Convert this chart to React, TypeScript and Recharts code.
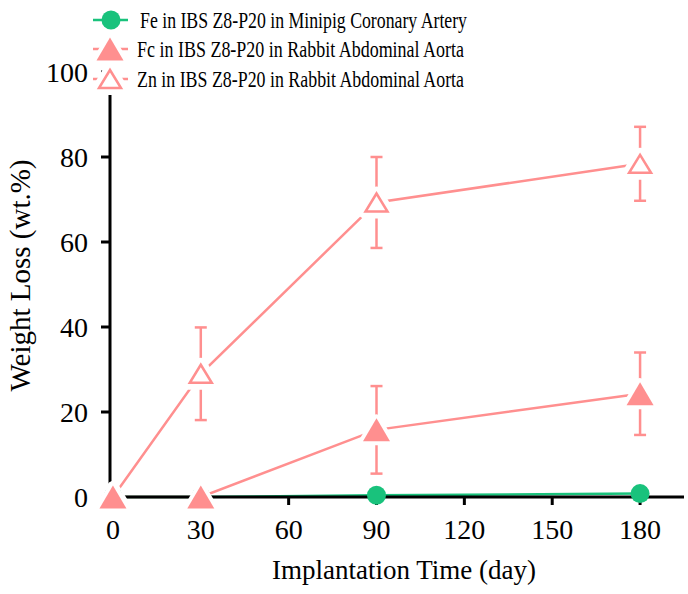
import { ErrorBar, Legend, Line, LineChart, XAxis, YAxis } from "recharts";

const days = [0, 30, 90, 180];
const feMinipig = [0, 0, 0.4, 0.8];
const feRabbit = [0, 0, 15.8, 24.3];
const feRabbitErr = [0, 0, 10.3, 9.7];
const znRabbit = [0, 29, 69.3, 78.4];
const znRabbitErr = [0, 10.9, 10.7, 8.7];

const xMajorTicks = [0, 30, 60, 90, 120, 150, 180];
const xMinorTicks = [15, 45, 75, 105, 135, 165, 195];
const yMajorTicks = [0, 20, 40, 60, 80, 100];
const yMinorTicks = [10, 30, 50, 70, 90];

const seriesNames = [
  "Fe in IBS Z8-P20 in Minipig Coronary Artery",
  "Fc in IBS Z8-P20 in Rabbit Abdominal Aorta",
  "Zn in IBS Z8-P20 in Rabbit Abdominal Aorta",
];

const GREEN = "#19c27c";
const PINK = "#ff8f8f";
const FONT = '"Liberation Serif", "Times New Roman", serif';
const X_DOMAIN: [number, number] = [-1, 195];
const Y_DOMAIN: [number, number] = [0, 100];

const data = days.map((d, i) => ({
  day: d,
  feMinipig: feMinipig[i],
  feRabbit: feRabbit[i],
  feRabbitErr: feRabbitErr[i],
  znRabbit: znRabbit[i],
  znRabbitErr: znRabbitErr[i],
}));

function Circle({ cx, cy }: any) {
  return <circle cx={cx} cy={cy} r={9.5} fill={GREEN} />;
}

function triPath(cx: number, cy: number, w: number, h: number) {
  return `M${cx},${cy - h / 2} L${cx + w / 2},${cy + h / 2} L${cx - w / 2},${cy + h / 2} Z`;
}

function FilledTri({ cx, cy }: any) {
  return (
    <g>
      <path d={triPath(cx, cy, 27, 23)} fill="#fff" stroke="#fff" strokeWidth={8} strokeLinejoin="round" />
      <path d={triPath(cx, cy, 27, 23)} fill={PINK} />
    </g>
  );
}

function OpenTri({ cx, cy }: any) {
  return (
    <g>
      <path d={triPath(cx, cy, 24, 20)} fill="#fff" stroke="#fff" strokeWidth={12} strokeLinejoin="round" />
      <path d={triPath(cx, cy, 22, 18)} fill="#fff" stroke={PINK} strokeWidth={2.5} />
    </g>
  );
}

const emptyTick = () => <g />;

function XTickText({ x, y, payload }: any) {
  return (
    <text x={x} y={y + 34} textAnchor="middle" fontSize={28} fill="#000">
      {payload.value}
    </text>
  );
}

function YTickText({ x, y, payload }: any) {
  return (
    <text x={x - 13} y={y} dy="0.34em" textAnchor="end" fontSize={28} fill="#000">
      {payload.value}
    </text>
  );
}

function YLabel({ viewBox }: any) {
  const cy = viewBox.y + viewBox.height / 2 - 9;
  return (
    <text x={30} y={cy} transform={`rotate(-90 30 ${cy})`} textAnchor="middle" fontSize={29} fill="#000">
      Weight Loss (wt.%)
    </text>
  );
}

function LegendBox() {
  const rows = [
    { y: 20, kind: "circle", color: GREEN, tx: 140 },
    { y: 49, kind: "filled", color: PINK, tx: 137 },
    { y: 79, kind: "open", color: PINK, tx: 137 },
  ];
  return (
    <svg width={688} height={100} style={{ fontFamily: FONT }}>
      {rows.map((r, i) => (
        <g key={i}>
          <line x1={93} x2={128} y1={r.y} y2={r.y} stroke={r.color} strokeWidth={2.5} />
          {r.kind === "circle" && <Circle cx={111} cy={r.y} />}
          {r.kind === "filled" && <FilledTri cx={110} cy={r.y} />}
          {r.kind === "open" && <OpenTri cx={110} cy={r.y} />}
          <text
            x={r.tx}
            y={r.y}
            dy="0.34em"
            fontSize={24}
            fill="#000"
            textLength={327}
            lengthAdjust="spacingAndGlyphs"
          >
            {seriesNames[i]}
          </text>
        </g>
      ))}
    </svg>
  );
}

const tickStroke = { stroke: "#000", strokeWidth: 3 };

export default function App() {
  return (
    <div style={{ position: "absolute", left: 0, top: 0, width: 688, height: 594, background: "#fff", fontFamily: FONT }}>
      <LineChart width={688} height={594} data={data} margin={{ top: 72, right: 4, bottom: 0, left: 0 }}>
        <Legend
          layout="vertical"
          align="center"
          verticalAlign="middle"
          wrapperStyle={{ position: "absolute", left: 0, top: 0, width: 688, height: 100 }}
          content={() => <LegendBox />}
        />
        {/* id 0: zero-size axes carrying only the minor ticks, stacked first so they sit on the main axes */}
        <XAxis
          xAxisId={0}
          dataKey="day"
          type="number"
          domain={X_DOMAIN}
          ticks={xMinorTicks}
          interval={0}
          height={0}
          axisLine={false}
          tickLine={tickStroke}
          tickSize={5}
          tick={emptyTick}
        />
        <YAxis
          yAxisId={0}
          type="number"
          domain={Y_DOMAIN}
          ticks={yMinorTicks}
          interval={0}
          width={0}
          axisLine={false}
          tickLine={tickStroke}
          tickSize={5}
          tick={emptyTick}
        />
        <XAxis
          xAxisId={1}
          dataKey="day"
          type="number"
          domain={X_DOMAIN}
          ticks={xMajorTicks}
          interval={0}
          height={97}
          axisLine={{ stroke: "#000", strokeWidth: 3 }}
          tickLine={tickStroke}
          tickSize={8}
          tickMargin={0}
          tick={(p: any) => <XTickText {...p} />}
          label={{ value: "Implantation Time (day)", position: "insideBottom", offset: 15, dx: 7, fontSize: 27, fill: "#000" }}
        />
        <YAxis
          yAxisId={1}
          type="number"
          domain={Y_DOMAIN}
          ticks={yMajorTicks}
          interval={0}
          width={110}
          axisLine={{ stroke: "#000", strokeWidth: 3 }}
          tickLine={tickStroke}
          tickSize={9}
          tickMargin={0}
          tick={(p: any) => <YTickText {...p} />}
          label={<YLabel />}
        />
        <Line
          xAxisId={1}
          yAxisId={1}
          dataKey="znRabbit"
          type="linear"
          stroke={PINK}
          strokeWidth={2.5}
          dot={false}
          activeDot={false}
          isAnimationActive={false}
        >
          <ErrorBar dataKey="znRabbitErr" width={6} stroke={PINK} strokeWidth={2.5} direction="y" />
        </Line>
        <Line
          xAxisId={1}
          yAxisId={1}
          dataKey="feRabbit"
          type="linear"
          stroke={PINK}
          strokeWidth={2.5}
          dot={false}
          activeDot={false}
          isAnimationActive={false}
        >
          <ErrorBar dataKey="feRabbitErr" width={6} stroke={PINK} strokeWidth={2.5} direction="y" />
        </Line>
        <Line
          xAxisId={1}
          yAxisId={1}
          dataKey="znRabbit"
          name={seriesNames[2]}
          stroke="none"
          dot={<OpenTri />}
          activeDot={false}
          isAnimationActive={false}
        />
        <Line
          xAxisId={1}
          yAxisId={1}
          dataKey="feMinipig"
          name={seriesNames[0]}
          type="linear"
          stroke={GREEN}
          strokeWidth={2.5}
          dot={<Circle />}
          activeDot={false}
          isAnimationActive={false}
        />
        <Line
          xAxisId={1}
          yAxisId={1}
          dataKey="feRabbit"
          name={seriesNames[1]}
          stroke="none"
          dot={<FilledTri />}
          activeDot={false}
          isAnimationActive={false}
        />
      </LineChart>
    </div>
  );
}
